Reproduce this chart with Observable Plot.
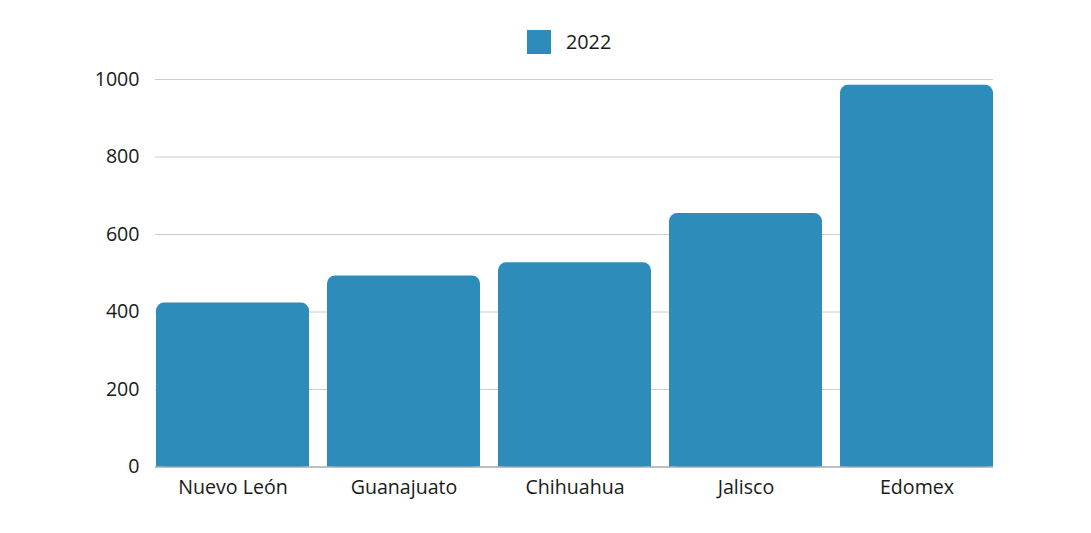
<!DOCTYPE html>
<html>
<head>
<meta charset="utf-8">
<script src="https://cdn.jsdelivr.net/npm/d3@7"></script>
<script src="https://cdn.jsdelivr.net/npm/@observablehq/plot@0.6"></script>
<style>
  html, body { margin: 0; padding: 0; background: #fff; }
  body { width: 1091px; height: 533px; overflow: hidden; font-family: "Open Sans", sans-serif; }
  #legend { height: 66px; position: relative; }
  #legend .sw { position: absolute; left: 527px; top: 30px; width: 24px; height: 24px; background: #2e8cba; }
  #legend .lb { position: absolute; left: 566px; top: 28px; font-size: 19.8px; line-height: 28px; color: #1a1a1a; }
  svg { display: block; }
</style>
</head>
<body>
<div id="legend"><div class="sw"></div><div class="lb"></div></div>
<div id="chart"></div>
<script>
const states = ["Nuevo León", "Guanajuato", "Chihuahua", "Jalisco", "Edomex"];
const values2022 = [423, 493, 527, 654, 985];
const yTicks = [0, 200, 400, 600, 800, 1000];
const seriesName = "2022";
const barColor = "#2e8cba";

document.querySelector("#legend .lb").textContent = seriesName;

const data = states.map((s, i) => ({state: s, value: values2022[i]}));

const chart = Plot.plot({
  width: 1091,
  height: 467,
  marginTop: 13,
  marginBottom: 66.5,
  marginLeft: 155,
  marginRight: 98,
  style: {fontFamily: "Open Sans", fontSize: "19.6px", color: "#1a1a1a", background: "#fff"},
  x: {domain: states, paddingInner: 0.108, paddingOuter: 0, label: null, tickSize: 0, tickPadding: 13},
  y: {domain: [0, 1000], ticks: yTicks, label: null, tickSize: 0, tickPadding: 16, tickFormat: d => String(d)},
  marks: [
    Plot.ruleY(yTicks, {stroke: "#cccccc", strokeWidth: 1}),
    Plot.barY(data, {x: "state", y: "value", fill: barColor, rx: 8}),
    Plot.barY(data, {x: "state", y1: 0, y2: d => Math.min(d.value, 40), fill: barColor}),
    Plot.ruleY([0], {stroke: "#999999", strokeWidth: 1})
  ]
});
document.getElementById("chart").appendChild(chart);
</script>
</body>
</html>
